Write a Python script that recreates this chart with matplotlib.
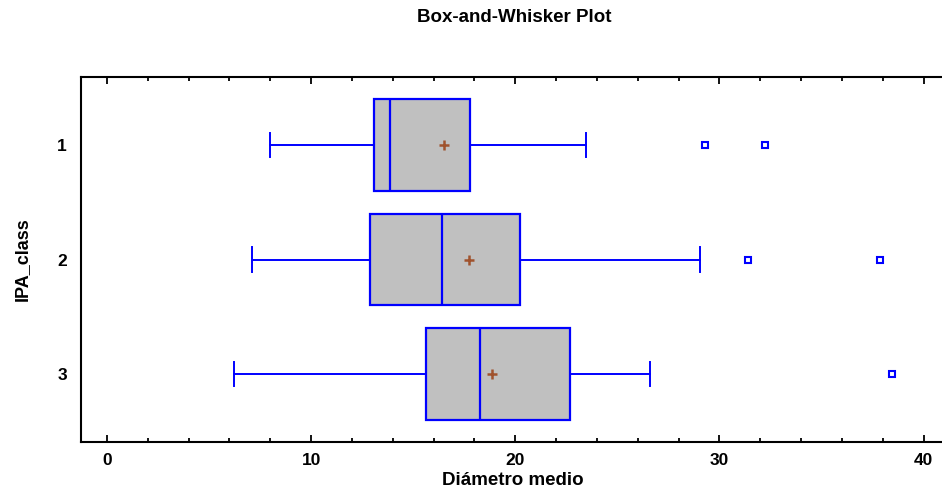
import matplotlib
matplotlib.use("Agg")
import matplotlib.pyplot as plt
from matplotlib.ticker import MultipleLocator

plt.rcParams['font.family'] = ['Liberation Sans', 'DejaVu Sans']

# values, one entry per class (1, 2, 3)
classes = ['1', '2', '3']
whisker_low = [7.98, 7.10, 6.20]
q1 = [13.06, 12.89, 15.64]
medians = [13.86, 16.42, 18.28]
means = [16.53, 17.73, 18.88]
q3 = [17.79, 20.24, 22.69]
whisker_high = [23.49, 29.07, 26.60]
outliers = [[29.31, 32.25], [31.42, 37.88], [38.44]]

stats = []
for i in range(len(classes)):
    stats.append(dict(label=classes[i], whislo=whisker_low[i], q1=q1[i], med=medians[i],
                      q3=q3[i], whishi=whisker_high[i], mean=means[i], fliers=outliers[i]))

fig = plt.figure(figsize=(9.42, 5.01), dpi=100)
W, H = 942, 501
ax = fig.add_axes([81 / W, 1 - 442 / H, (945 - 81) / W, (442 - 77) / H])

blue = '#0000ff'
ax.bxp(stats, positions=[1, 2, 3], orientation='horizontal', widths=0.8,
       patch_artist=True, showmeans=True,
       boxprops=dict(facecolor='#c0c0c0', edgecolor=blue, linewidth=1.6),
       medianprops=dict(color=blue, linewidth=1.6),
       whiskerprops=dict(color=blue, linewidth=1.4),
       capprops=dict(color=blue, linewidth=1.4),
       capwidths=0.21,
       flierprops=dict(marker='s', markersize=5, markerfacecolor='white',
                       markeredgecolor=blue, markeredgewidth=1.5),
       meanprops=dict(marker='+', markersize=7, markeredgecolor='#a0522d',
                      markeredgewidth=1.8))

ax.set_xlim(-1.27, 41.05)
ax.set_ylim(3.59, 0.41)
ax.set_yticks([1, 2, 3])
ax.set_yticklabels(classes)
ax.xaxis.set_major_locator(MultipleLocator(10))
ax.xaxis.set_minor_locator(MultipleLocator(2))
ax.tick_params(axis='x', which='both', direction='in', top=True, bottom=True, width=1.3)
ax.tick_params(axis='x', which='major', length=5, pad=8)
ax.tick_params(axis='x', which='minor', length=3)
ax.tick_params(axis='y', length=0, pad=10)
for lab in ax.get_xticklabels() + ax.get_yticklabels():
    lab.set_fontsize(12.5)
    lab.set_fontweight('bold')
for s in ax.spines.values():
    s.set_linewidth(1.5)
ax.spines['right'].set_visible(False)

ax.set_xlabel('Diámetro medio', fontsize=13.5, fontweight='bold', labelpad=3)
ax.set_ylabel('IPA_class', fontsize=13, fontweight='bold')
ax.yaxis.set_label_coords((31 - 81) / 864, 0.5)
fig.text(514 / W, 1 - 17 / H, 'Box-and-Whisker Plot', ha='center', va='center',
         fontsize=13.5, fontweight='bold')

fig.savefig('out.png', dpi=100)
